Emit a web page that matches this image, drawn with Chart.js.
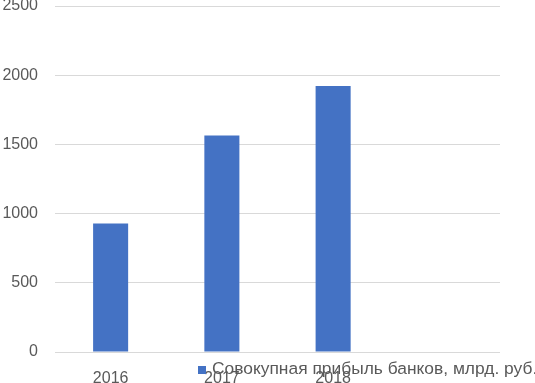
<!DOCTYPE html>
<html>
<head>
<meta charset="utf-8">
<script src="https://cdn.jsdelivr.net/npm/chart.js@4"></script>
<style>
  html, body { margin: 0; padding: 0; background: #fff; }
  #wrap { width: 535px; height: 383px; }
</style>
</head>
<body>
<div id="wrap"><canvas id="chart" width="535" height="383"></canvas></div>
<script>
// data
const years = ["2016", "2017", "2018", ""];
const profit = [928, 1565, 1922, null];
const seriesName = "Совокупная прибыль банков, млрд. руб.";
const yTicks = [0, 500, 1000, 1500, 2000, 2500];

const FONT = "'Liberation Sans', Arial, sans-serif";
const TXT = "#595959";
const BLUE = "#4472C4";

// legend drawn by hand, it sits over the year labels like in the source
const legendOverlay = {
  id: "legendOverlay",
  afterDraw(chart) {
    const ctx = chart.ctx;
    ctx.save();
    ctx.fillStyle = BLUE;
    ctx.fillRect(198, 366, 8, 8);
    ctx.fillStyle = TXT;
    ctx.font = "17.4px " + FONT;
    ctx.textBaseline = "alphabetic";
    ctx.textAlign = "left";
    ctx.fillText(seriesName, 212, 374);
    ctx.restore();
  }
};

new Chart(document.getElementById("chart").getContext("2d"), {
  type: "bar",
  data: {
    labels: years,
    datasets: [{
      label: seriesName,
      data: profit,
      backgroundColor: BLUE,
      barPercentage: 0.63,
      categoryPercentage: 0.5
    }]
  },
  options: {
    responsive: false,
    animation: false,
    layout: { padding: { top: 6, right: 35, left: 0, bottom: 0 } },
    plugins: { legend: { display: false }, tooltip: { enabled: false } },
    scales: {
      x: {
        grid: { display: false },
        border: { display: false },
        ticks: { color: TXT, font: { family: FONT, size: 16 }, padding: 9, maxRotation: 0 },
        afterFit(s) { s.height = 31; s.paddingLeft = 0; s.paddingRight = 0; }
      },
      y: {
        min: 0,
        max: 2500,
        afterBuildTicks(s) { s.ticks = yTicks.map(v => ({ value: v })); },
        grid: { color: "#d9d9d9", lineWidth: 1, drawTicks: false },
        border: { display: false },
        ticks: {
          color: TXT,
          font: { family: FONT, size: 16 },
          padding: 17,
          callback: v => String(v)
        },
        afterFit(s) { s.width = 55; s.paddingTop = 0; s.paddingBottom = 0; }
      }
    }
  },
  plugins: [legendOverlay]
});
</script>
</body>
</html>
